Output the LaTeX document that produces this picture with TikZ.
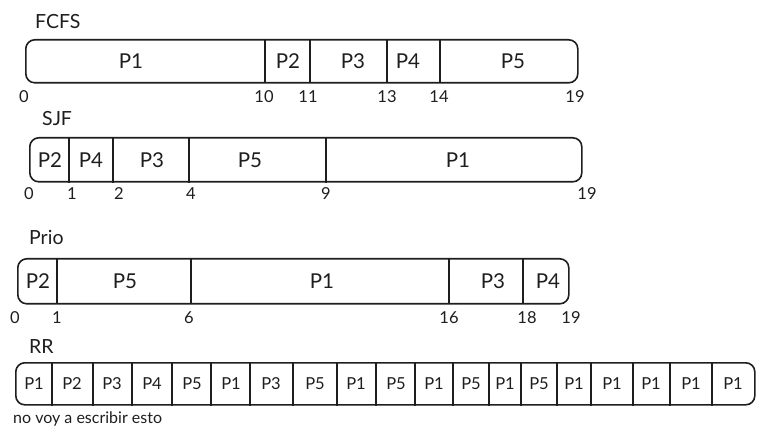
\documentclass[tikz,border=0pt]{standalone}
\usepackage{fontspec}
\setmainfont{Lato}
\definecolor{ink}{HTML}{1E1E1E}
\begin{document}
\begin{tikzpicture}[x=1pt,y=-1pt,
  bar/.style={draw=ink, line width=1.6pt, rounded corners=9pt, inner sep=0pt, anchor=north west},
  div/.style={draw=ink, line width=1.6pt},
  cell/.style={text=ink, font=\fontsize{20.5}{24}\selectfont, inner sep=0pt},
  rrcell/.style={text=ink, font=\fontsize{16.5}{20}\selectfont, inner sep=0pt},
  num/.style={text=ink, font=\fontsize{16.5}{20}\selectfont, inner sep=0pt},
  title/.style={text=ink, font=\fontsize{19.5}{23}\selectfont, inner sep=0pt, anchor=west}]
\useasboundingbox (0,0) rectangle (763,438);
% ---------- FCFS ----------
\node[title] (tfcfs) at (35,22) {FCFS};
\node[bar, minimum width=552pt, minimum height=43pt] (fcfs) at (25,39) {};
\foreach \x in {265,310,387,440} \draw[div] (\x,39) -- (\x,82);
\foreach \x/\t [count=\i] in {131/P1,288/P2,353/P3,408/P4,513/P5}
  \node[cell] (fc\i) at (\x,61) {\t};
\foreach \x/\t [count=\i] in {24/0,264/10,308/11,387/13,439/14,575/19}
  \node[num] (fn\i) at (\x,97) {\t};
% ---------- SJF ----------
\node[title] (tsjf) at (42,119) {SJF};
\node[bar, minimum width=552pt, minimum height=44pt] (sjf) at (29,137) {};
\foreach \x in {69,113,189,326} \draw[div] (\x,137) -- (\x,183);
\foreach \x/\t [count=\i] in {50/P2,91/P4,152/P3,250/P5,458/P1}
  \node[cell] (sc\i) at (\x,160) {\t};
\foreach \x/\t [count=\i] in {29/0,72/1,119/2,191/4,326/9,587/19}
  \node[num] (sn\i) at (\x,194) {\t};
% ---------- Prio ----------
\node[title] (tprio) at (29,237) {Prio};
\node[bar, minimum width=551pt, minimum height=45pt] (prio) at (17,258) {};
\foreach \x in {57,191,449,523} \draw[div] (\x,258) -- (\x,303);
\foreach \x/\t [count=\i] in {38/P2,125/P5,322/P1,493/P3,548/P4}
  \node[cell] (pc\i) at (\x,281) {\t};
\foreach \x/\t [count=\i] in {15/0,57/1,189/6,449/16,527/18,571/19}
  \node[num] (pn\i) at (\x,318) {\t};
% ---------- RR ----------
\node[title] (trr) at (29,347) {RR};
\node[bar, minimum width=739pt, minimum height=42pt] (rr) at (15,362) {};
\foreach \x in {52,93,132,172,211,250,293,337,376,415,453,489,521,557,591,633,670,712}
  \draw[div] (\x,362) -- (\x,406);
\foreach \x/\t [count=\i] in {34/P1,72/P2,112/P3,152/P4,192/P5,231/P1,271/P3,315/P5,356/P1,396/P5,434/P1,471/P5,505/P1,539/P5,574/P1,612/P1,651/P1,691/P1,733/P1}
  \node[rrcell] (rc\i) at (\x,384) {\t};
\node[num, anchor=west, font=\fontsize{16}{19}\selectfont] (note) at (13,419) {no voy a escribir esto};
\end{tikzpicture}
\end{document}
